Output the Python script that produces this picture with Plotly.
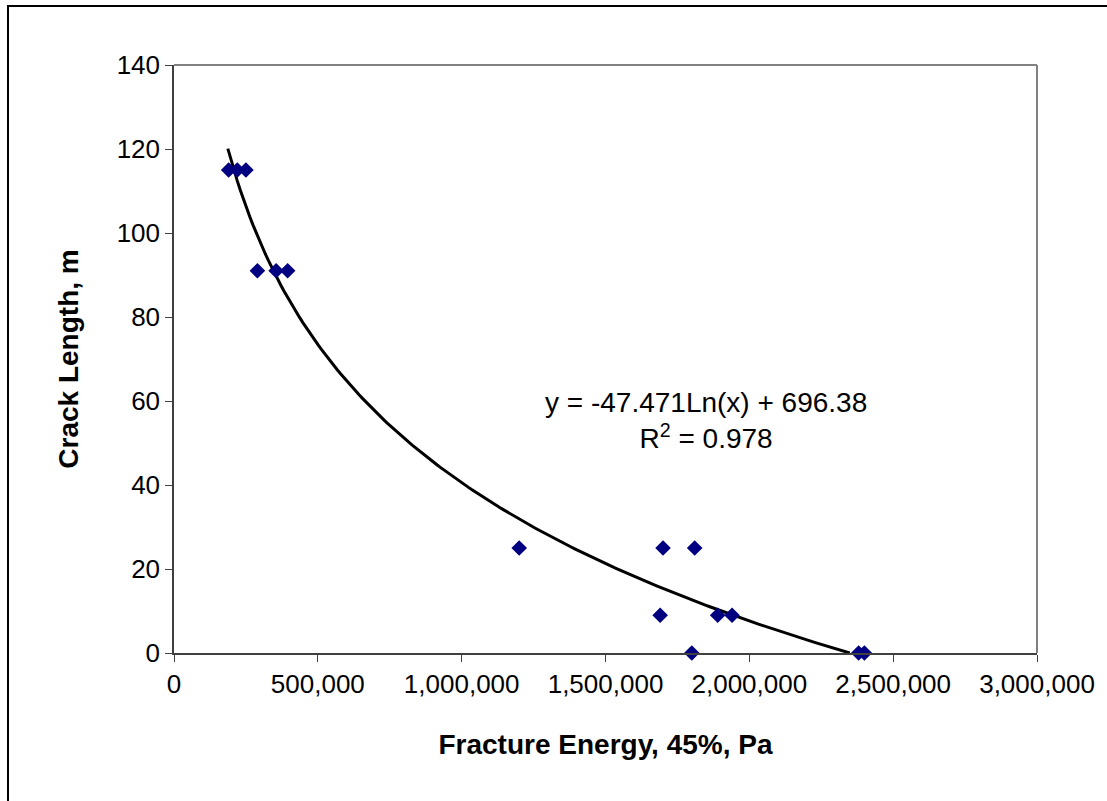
import numpy as np
import plotly.graph_objects as go

# Data
fracture_energy = [190000, 220000, 250000,
                   290000, 355000, 395000,
                   1200000, 1700000, 1810000,
                   1690000, 1890000, 1940000,
                   1800000, 2380000, 2400000]
crack_length = [115, 115, 115,
                91, 91, 91,
                25, 25, 25,
                9, 9, 9,
                0, 0, 0]

# Logarithmic trendline coefficients (as printed on the chart)
coef_a = -47.471
coef_b = 696.38
r_squared = 0.978

x_ticks = [0, 500000, 1000000, 1500000, 2000000, 2500000, 3000000]
x_tick_labels = ["0", "500,000", "1,000,000", "1,500,000", "2,000,000", "2,500,000", "3,000,000"]
y_ticks = [0, 20, 40, 60, 80, 100, 120, 140]

# trendline over the data range, clipped at y = 0 (axis minimum)
x_end = float(np.exp(-coef_b / coef_a))
x_start = min(fracture_energy) * 0.985
trend_x = np.linspace(x_start, x_end, 200)
trend_y = coef_a * np.log(trend_x) + coef_b

FONT = "Liberation Sans, Arial, sans-serif"
TICK = 26
TITLE = 28

fig = go.Figure()
fig.add_trace(go.Scatter(x=trend_x, y=trend_y, mode="lines",
                         line=dict(color="black", width=3), hoverinfo="skip",
                         showlegend=False))
fig.add_trace(go.Scatter(x=fracture_energy, y=crack_length, mode="markers",
                         marker=dict(symbol="diamond", size=12, color="#000080"),
                         showlegend=False, cliponaxis=False))

fig.update_layout(
    width=1107, height=801,
    margin=dict(l=174, r=70, t=65, b=148),
    paper_bgcolor="white", plot_bgcolor="white",
    font=dict(family=FONT, size=TICK, color="black"),
    xaxis=dict(range=[0, 3000000], tickvals=x_ticks, ticktext=x_tick_labels,
               showgrid=False, zeroline=False, showline=True, linecolor="#404040",
               linewidth=1.5, mirror=False, ticks="outside", ticklen=7,
               tickcolor="#404040", tickfont=dict(size=TICK),
               title=dict(text="<b>Fracture Energy, 45%, Pa</b>", font=dict(size=TITLE), standoff=36)),
    yaxis=dict(range=[0, 140], tickvals=y_ticks, showgrid=False, zeroline=False,
               showline=True, linecolor="#404040", linewidth=1.5, ticks="outside",
               ticklen=7, tickcolor="#404040", tickfont=dict(size=TICK),
               title=dict(text="<b>Crack Length, m</b>", font=dict(size=TITLE), standoff=30)),
    shapes=[
        # plot area border (top and right, grey)
        dict(type="line", xref="paper", yref="paper", x0=0, x1=1, y0=1, y1=1,
             line=dict(color="#808080", width=2)),
        dict(type="line", xref="paper", yref="paper", x0=1, x1=1, y0=0, y1=1,
             line=dict(color="#808080", width=2)),
        # outer chart border
        dict(type="rect", xref="paper", yref="paper",
             x0=(8 - 174) / 863, x1=(1112 - 174) / 863,
             y0=(653 - 806) / 588, y1=(653 - 6) / 588,
             line=dict(color="black", width=2), layer="below"),
    ],
    annotations=[
        dict(xref="x", yref="y", x=1850000, y=55.3,
             text=f"y = {coef_a}Ln(x) + {coef_b}<br>R<sup>2</sup> = {r_squared}",
             showarrow=False, font=dict(size=TITLE), align="center"),
    ],
)

fig.write_html("out.html")
